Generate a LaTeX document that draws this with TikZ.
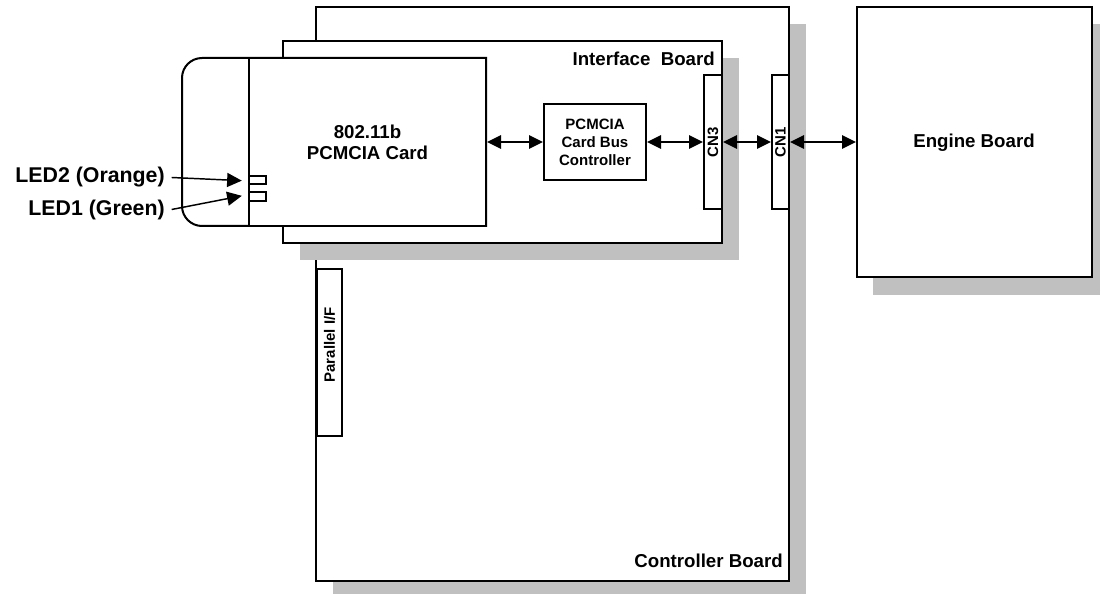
\documentclass[tikz,border=0pt]{standalone}
\usepackage{fontspec}
\setmainfont{Liberation Sans}
\usetikzlibrary{arrows.meta,fit}
\definecolor{shgray}{RGB}{192,192,192}
\begin{document}
\begin{tikzpicture}[x=0.75pt,y=-0.75pt,
  box/.style={draw=black, fill=white, line width=1.5pt, inner sep=0pt},
  thinbox/.style={draw=black, fill=white, line width=0.8pt, inner sep=0pt},
  lbl/.style={font=\bfseries\fontsize{14}{15.75}\selectfont, inner sep=0pt, align=center},
  ledlbl/.style={font=\bfseries\fontsize{16}{18}\selectfont, inner sep=0pt},
  small/.style={font=\bfseries\fontsize{11.25}{13.5}\selectfont, inner sep=0pt, align=center},
  dbl/.style={{Triangle[length=10.5pt,width=10pt]}-{Triangle[length=10.5pt,width=10pt]}, line width=1.6pt},
  ptr/.style={-{Triangle[length=11pt,width=10.5pt]}, line width=1.1pt},
]
\useasboundingbox (0,0) rectangle (1101,595);
% controller board
\fill[shgray] (333,24) rectangle (806,594);
\node[box, fit={(316,7) (789,581)}] (ctrl) {};
\node[lbl, anchor=east] (ctrltxt) at (783,561) {Controller Board};
% engine board
\fill[shgray] (873,24) rectangle (1100,295);
\node[box, fit={(857,7) (1092,277)}] (eng) {};
\node[lbl, anchor=base] (engtxt) at (974,148) {Engine Board};
% interface board
\fill[shgray] (300,58) rectangle (739,260);
\node[box, fit={(283,41) (722,243)}] (ifb) {};
\node[lbl, anchor=east] (ifbtxt) at (715,59) {Interface\ \ Board};
% PCMCIA card
\draw[line width=1.5pt, fill=white] (486,58) -- (249,58)
  {[rounded corners=15pt] -- (182,58) -- (182,226) -- (249,226)} -- (486,226) -- cycle;
\node[box, fit={(249,58) (486,226)}] (card) {};
\node[lbl] (cardtxt) at (367.5,142) {802.11b\\PCMCIA Card};
% LEDs
\node[thinbox, fit={(249,176) (266,184)}] (led2) {};
\node[thinbox, fit={(249,192) (266,201)}] (led1) {};
\node[ledlbl, anchor=east] (l2) at (165,177.5) {LED2 (Orange)};
\node[ledlbl, anchor=east] (l1) at (165,209.5) {LED1 (Green)};
\draw[ptr] ([xshift=5pt]l2.east) -- ([xshift=-5pt,yshift=-0.5pt]led2.west);
\draw[ptr] ([xshift=5pt]l1.east) -- ([xshift=-5pt,yshift=0.5pt]led1.west);
% card bus controller
\node[box, fit={(544,104) (646,180)}] (pcc) {};
\node[small] (pcctxt) at (pcc.center) {PCMCIA\\Card Bus\\Controller};
% connectors
\node[box, fit={(704,75) (722,209)}] (cn3) {};
\node[small, rotate=90] (cn3txt) at (cn3.center) {CN3};
\node[box, fit={(772,75) (789,209)}] (cn1) {};
\node[small, rotate=90] (cn1txt) at (cn1.center) {CN1};
% parallel I/F
\node[box, fit={(317,269) (342,436)}] (par) {};
\node[small, rotate=90] (partxt) at (329.5,345) {Parallel I/F};
% arrows
\draw[dbl] (card.east) -- (pcc.west);
\draw[dbl] (pcc.east) -- (cn3.west);
\draw[dbl] (cn3.east) -- (cn1.west);
\draw[dbl] (cn1.east) -- (eng.west);
\end{tikzpicture}
\end{document}
